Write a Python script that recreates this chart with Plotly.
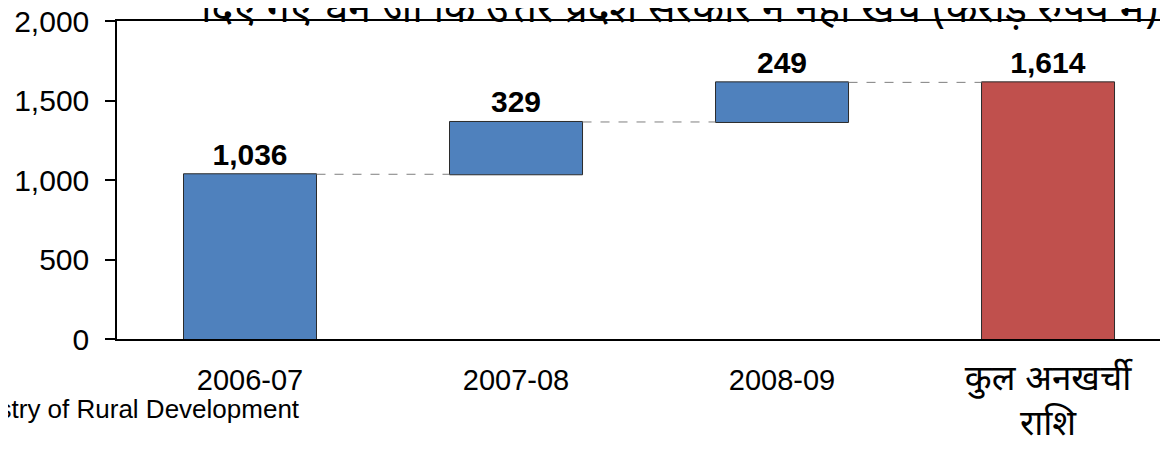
import plotly.graph_objects as go

categories = ["2006-07", "2007-08", "2008-09", "कुल अनखर्ची<br>राशि"]
values = [1036, 329, 249, 0]
measures = ["relative", "relative", "relative", "total"]
labels = ["1,036", "329", "249", "1,614"]
y_ticks = [0, 500, 1000, 1500, 2000]
title_text = "दिए गए धन जो कि उत्तर प्रदेश सरकार ने नहीं खर्च (करोड़ रुपये में)"
source_text = "Source: Ministry of Rural Development"

FONT = "Liberation Sans, Arial, Noto Sans Devanagari, sans-serif"
HFONT = "Noto Sans Devanagari, Lohit Devanagari, Mangal, Noto Sans, Liberation Sans, sans-serif"

# page has an 8px body margin; figure sized so the plot reaches the window edge
OFF = 8
W, H = 1168 - OFF, 450 - OFF
L, T = 117 - OFF, 21 - OFF
B = H - (339 - OFF)
R = 0
PH = H - T - B
PW = W - L - R


def px_x(x):
    return (x - OFF - L) / PW


def px_y(y):
    return (H - B - (y - OFF)) / PH


tick_text = ["<span style='font-size:29px'>" + c + "</span>" if "<br>" not in c else c
             for c in categories]

fig = go.Figure()
fig.add_trace(go.Waterfall(
    x=categories,
    y=values,
    measure=measures,
    text=labels,
    textposition="outside",
    textfont=dict(family=FONT, size=30, color="black", weight="bold"),
    width=0.5,
    increasing=dict(marker=dict(color="#4F81BD", line=dict(color="#2b2b2b", width=1))),
    totals=dict(marker=dict(color="#C0504D", line=dict(color="#2b2b2b", width=1))),
    connector=dict(mode="between", line=dict(color="#7f7f7f", width=1, dash="dash")),
    cliponaxis=False,
    showlegend=False,
))

fig.update_layout(
    width=W, height=H,
    margin=dict(l=L, r=R, t=T, b=B, autoexpand=False),
    paper_bgcolor="white", plot_bgcolor="white",
    font=dict(family=FONT, size=30, color="black"),
    xaxis=dict(
        type="category", categoryorder="array", categoryarray=categories,
        tickvals=categories, ticktext=tick_text,
        range=[-0.5, 3.451], automargin=False, tickangle=0,
        showline=True, linecolor="black", linewidth=1.5, mirror=True,
        showgrid=False, zeroline=False,
        ticks="outside", ticklen=7, tickcolor="rgba(0,0,0,0)",
        tickfont=dict(family=FONT, size=35, color="black"),
    ),
    yaxis=dict(
        range=[0, 2000], tickvals=y_ticks, tickformat=",", automargin=False,
        showline=True, linecolor="black", linewidth=1.5,
        showgrid=False, zeroline=False,
        ticks="outside", ticklen=10, tickwidth=1.5, tickcolor="black",
        ticklabelstandoff=10, ticklabeloverflow="allow",
        tickfont=dict(family=FONT, size=30, color="black"),
    ),
    annotations=[
        dict(text=title_text, xref="paper", yref="paper",
             x=px_x(680), y=px_y(11),
             xanchor="center", yanchor="middle", showarrow=False,
             font=dict(family=HFONT, size=41, color="black")),
        dict(text=source_text, xref="paper", yref="paper",
             x=px_x(302), y=px_y(409),
             xanchor="right", yanchor="middle", showarrow=False,
             font=dict(family=FONT, size=26, color="black")),
    ],
)

fig.write_html("out.html")
